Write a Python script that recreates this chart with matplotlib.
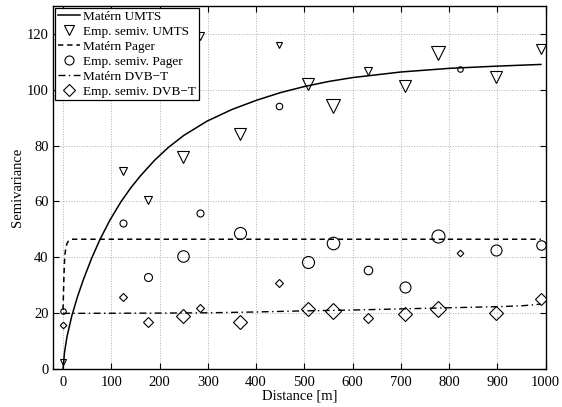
import numpy as np
import matplotlib
matplotlib.use('Agg')
import matplotlib.pyplot as plt

plt.rcParams['font.family'] = ['Liberation Serif', 'DejaVu Serif']

# empirical semivariogram lags [m]
lags = [0, 124, 175, 248, 283, 367, 448, 507, 559, 631, 708, 777, 823, 898, 990]
lag_size_px = [5.5, 7, 8, 11.5, 7, 12, 6.5, 12, 12.5, 8.5, 11, 13, 5.5, 11, 9.5]

semiv_umts = [2.5, 70.8, 60.7, 75.9, 119.3, 84.0, 116.0, 102.0, 94.2, 106.5, 101.3, 113.0, np.nan, 104.6, 114.5]
semiv_pager = [21.0, 52.3, 33.1, 40.6, 56.0, 48.9, 94.2, 38.5, 45.2, 35.4, 29.5, 47.8, 107.2, 42.5, 44.5]
semiv_dvbt = [15.8, 26.0, 17.0, 19.0, 22.0, 16.9, 31.0, 21.7, 20.7, 18.4, 19.6, 21.5, 41.6, 20.3, 25.2]

# fitted Matern curves, sampled off the figure
umts_x = [0, 3, 8, 18, 30, 42, 59, 77, 97, 120, 140, 160, 190, 218, 250, 298, 350, 401, 450, 500,
          550, 600, 700, 800, 900, 990]
umts_y = [0, 6, 11.5, 19.0, 26.0, 32.0, 39.6, 46.6, 53.3, 59.9, 64.8, 69.1, 74.8, 79.3, 83.6, 88.7, 92.9, 96.2,
          98.9, 101.1, 102.9, 104.3, 106.3, 107.6, 108.4, 109.0]
pager_x = [0, 1, 2, 3, 4, 6, 8, 11, 14, 18, 990]
pager_y = [21.3, 28, 34, 38.5, 41.2, 43.6, 44.9, 45.8, 46.2, 46.5, 46.5]
dvbt_x = [0, 200, 300, 400, 500, 600, 700, 800, 900, 950, 990]
dvbt_y = [20.0, 20.1, 20.2, 20.5, 20.9, 21.2, 21.6, 22.0, 22.4, 22.7, 23.3]

fig = plt.figure(figsize=(5.62, 4.07), dpi=100)
ax = fig.add_axes([0.095, 0.0926, 0.876, 0.8934])

px2pt = 72.0 / fig.dpi

ax.plot(umts_x, umts_y, color='k', lw=1.1, ls='-', label='Matérn UMTS')
for i, (x, y) in enumerate(zip(lags, semiv_umts)):
    ax.plot(x, y, ls='none', marker='v', mfc='none', mec='k', mew=0.8,
            ms=lag_size_px[i] * px2pt * 1.05,
            label='Emp. semiv. UMTS' if i == 0 else None)
ax.plot(pager_x, pager_y, color='k', lw=1.1, ls=(0, (3.5, 2.5)), label='Matérn Pager')
for i, (x, y) in enumerate(zip(lags, semiv_pager)):
    ax.plot(x, y, ls='none', marker='o', mfc='none', mec='k', mew=0.8,
            ms=lag_size_px[i] * px2pt,
            label='Emp. semiv. Pager' if i == 0 else None)
ax.plot(dvbt_x, dvbt_y, color='k', lw=1.0, ls=(0, (5, 2.5, 1, 2.5)), label='Matérn DVB−T')
for i, (x, y) in enumerate(zip(lags, semiv_dvbt)):
    ax.plot(x, y, ls='none', marker='D', mfc='none', mec='k', mew=0.8,
            ms=lag_size_px[i] * px2pt * 0.85,
            label='Emp. semiv. DVB−T' if i == 0 else None)

ax.set_xlim(-20, 1000)
ax.set_ylim(0, 130)
ax.set_xticks(np.arange(0, 1001, 100))
ax.set_yticks(np.arange(0, 121, 20))
ax.tick_params(direction='in', top=True, right=True, length=4, width=0.8, labelsize=10.5)
ax.tick_params(axis='x', pad=4.5)
ax.grid(True, ls=':', color='#b0b0b0', lw=0.7)
for s in ax.spines.values():
    s.set_linewidth(1.0)

ax.set_xlabel('Distance [m]', fontsize=10.5, labelpad=1)
ax.set_ylabel('Semivariance', fontsize=10.5, labelpad=2)

leg = ax.legend(loc='upper left', fontsize=9.5, frameon=True, fancybox=False, edgecolor='k',
                framealpha=1, handlelength=1.7, handletextpad=0.2, labelspacing=0.21,
                borderpad=0.2, borderaxespad=0.15)
leg.get_frame().set_linewidth(0.9)
for h in leg.legend_handles:
    if h.get_marker() not in (None, 'None', ''):
        h.set_markersize(6.5)

fig.savefig('out.png', dpi=100)
